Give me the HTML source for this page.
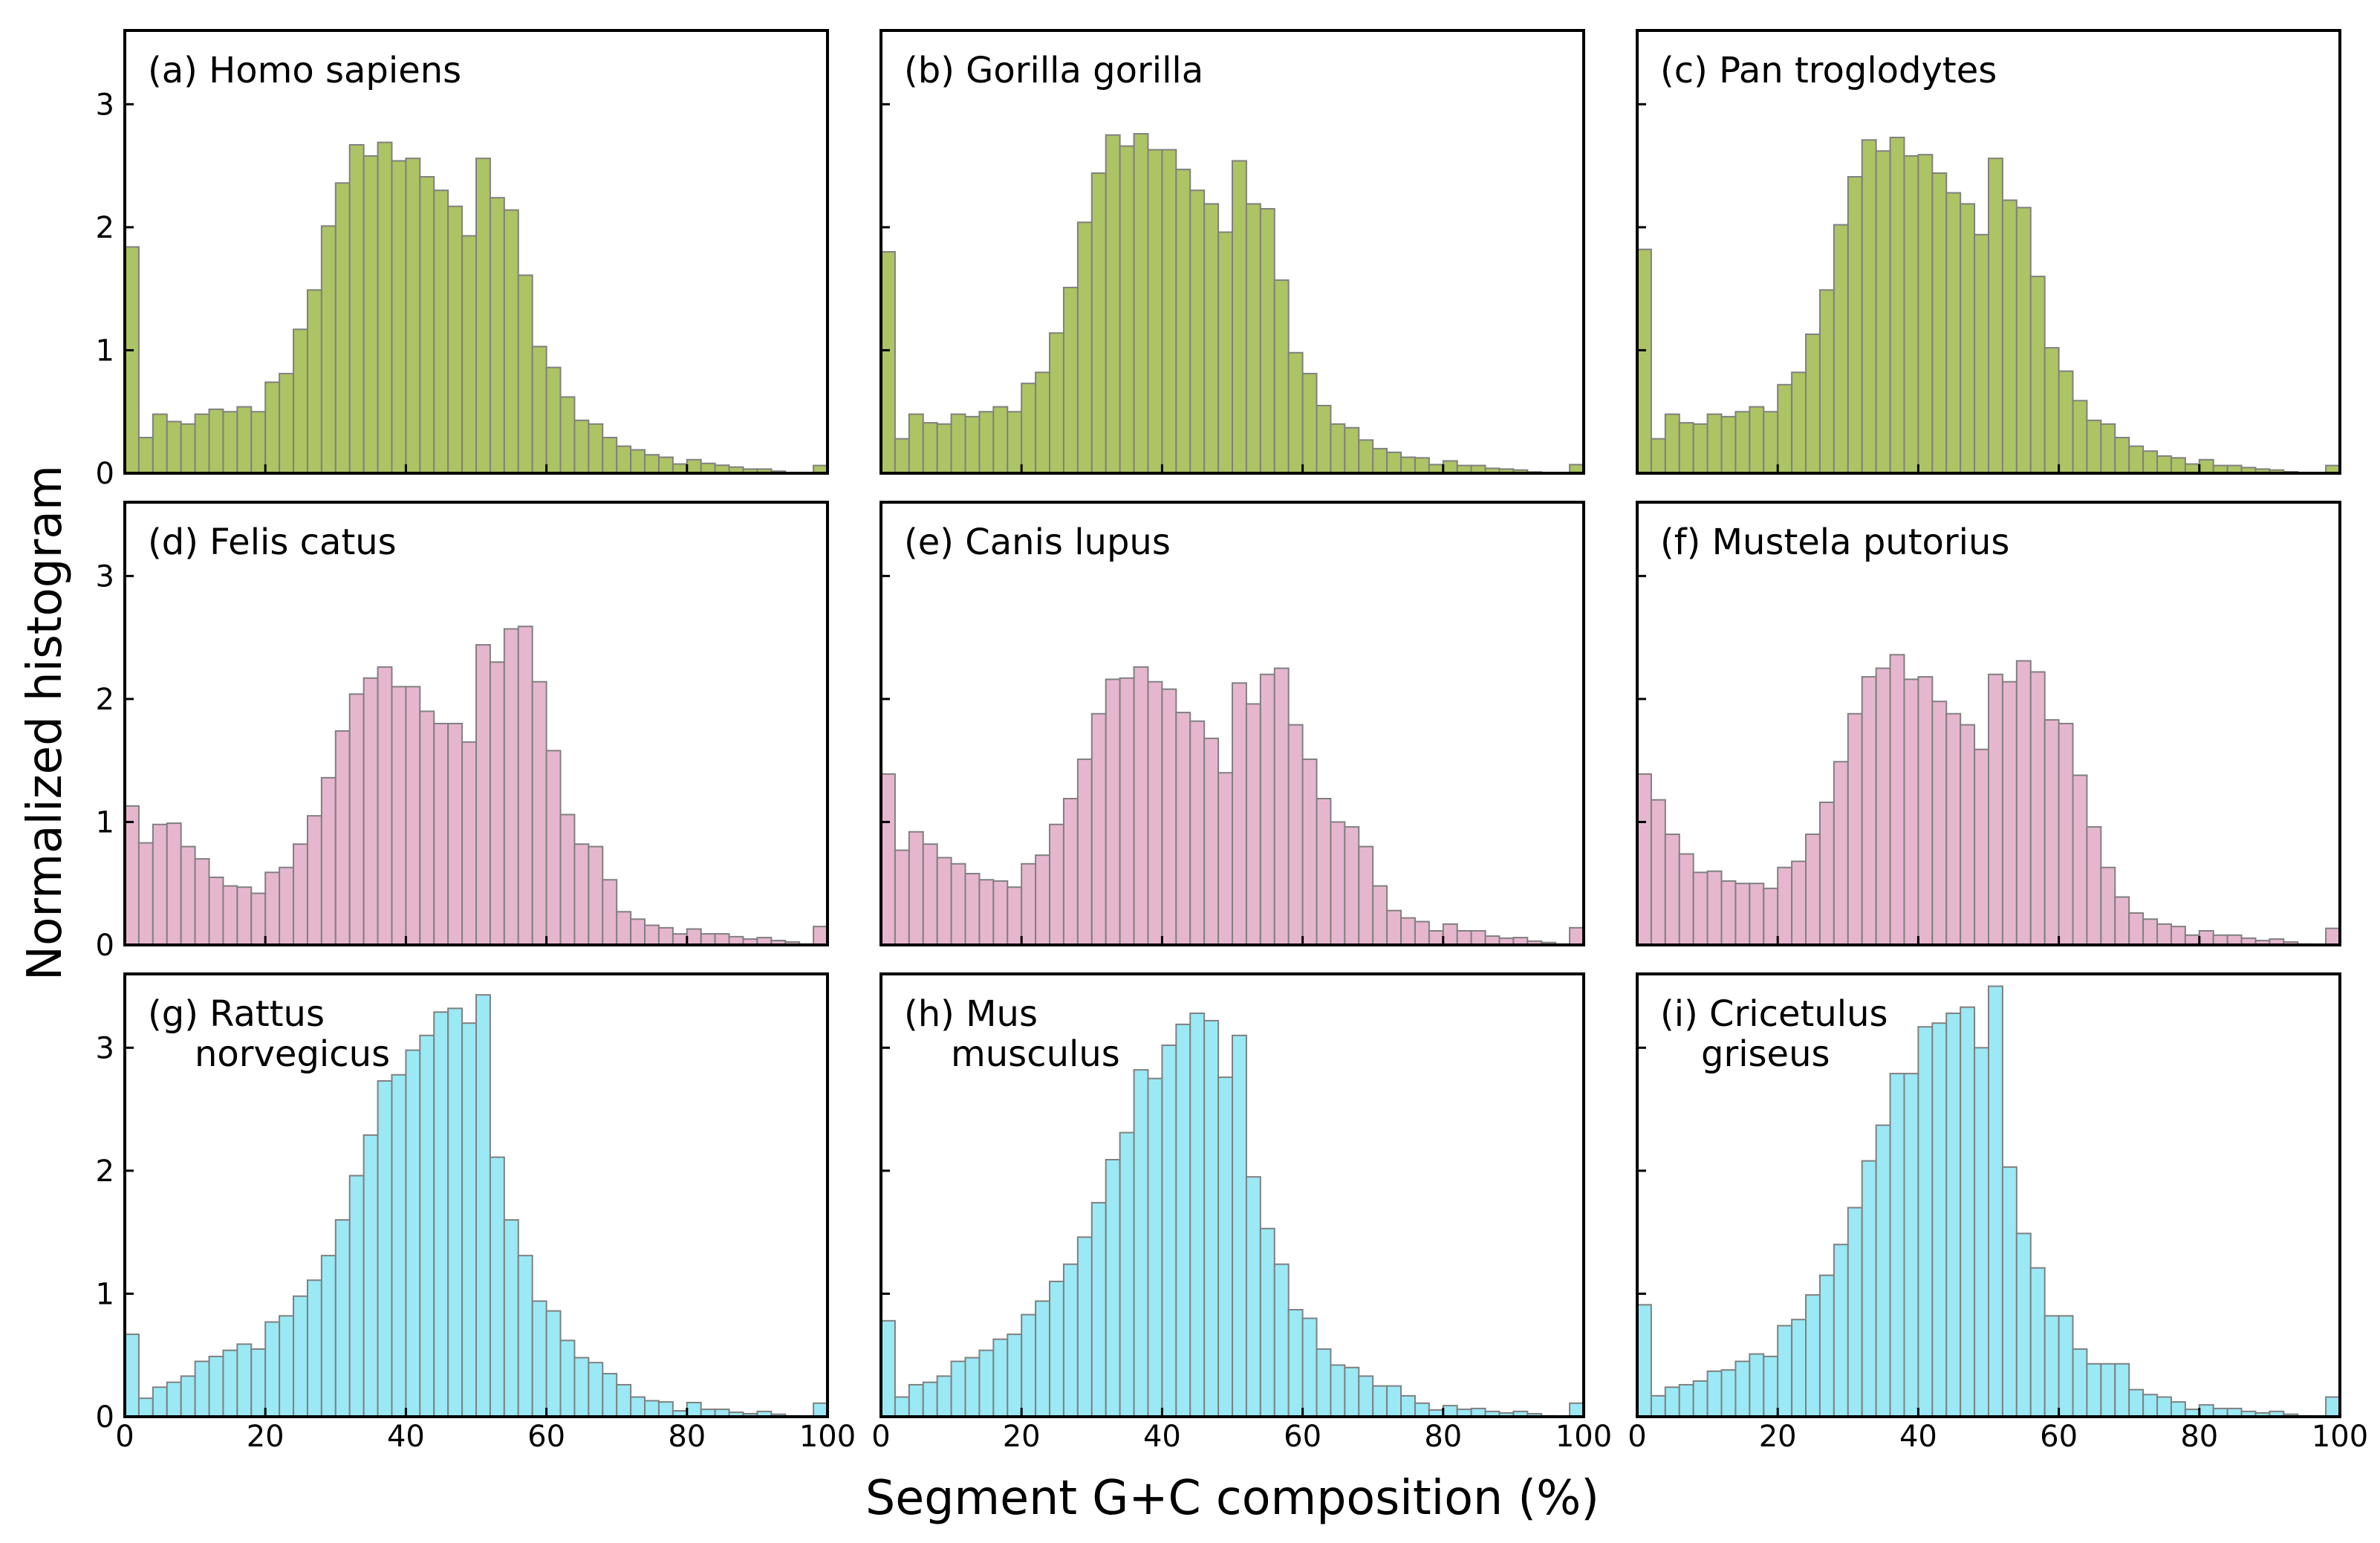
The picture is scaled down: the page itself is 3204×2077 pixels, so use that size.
<!DOCTYPE html>
<html><head><meta charset="utf-8">
<style>
html,body{margin:0;padding:0;background:#fff;}
svg{display:block;}
text{font-family:"DejaVu Sans","Liberation Sans",sans-serif;fill:#000;}
</style></head>
<body>
<svg id="fig" width="3204" height="2077" viewBox="0 0 3204 2077" xmlns="http://www.w3.org/2000/svg">
<rect x="0" y="0" width="3204" height="2077" fill="#fff"/>
<text transform="translate(82,973) rotate(-90)" text-anchor="middle" font-size="64" textLength="694" lengthAdjust="spacingAndGlyphs">Normalized histogram</text>
<text x="1659" y="2038" text-anchor="middle" font-size="64" textLength="988" lengthAdjust="spacingAndGlyphs">Segment G+C composition (%)</text>
</svg>
<script>
const binEdges = [0,2,4,6,8,10,12,14,16,18,20,22,24,26,28,30,32,34,36,38,40,42,44,46,48,50,52,54,56,58,60,62,64,66,68,70,72,74,76,78,80,82,84,86,88,90,92,94,96,98,100];
const xTicks = [0,20,40,60,80,100];
const yTicks = [0,1,2,3];
const panelLabels = [["(a) Homo sapiens"],["(b) Gorilla gorilla"],["(c) Pan troglodytes"],["(d) Felis catus"],["(e) Canis lupus"],["(f) Mustela putorius"],["(g) Rattus","norvegicus"],["(h) Mus","musculus"],["(i) Cricetulus","griseus"]];
const homoSapiens = [1.84,0.29,0.48,0.42,0.40,0.48,0.52,0.50,0.54,0.50,0.74,0.81,1.17,1.49,2.01,2.36,2.67,2.58,2.69,2.54,2.56,2.41,2.30,2.17,1.93,2.56,2.24,2.14,1.61,1.03,0.86,0.62,0.43,0.40,0.29,0.22,0.19,0.15,0.13,0.075,0.11,0.08,0.065,0.05,0.034,0.034,0.017,0.005,0,0.063];
const gorillaGorilla = [1.80,0.28,0.48,0.41,0.40,0.48,0.46,0.50,0.54,0.50,0.73,0.82,1.14,1.51,2.04,2.44,2.75,2.66,2.76,2.63,2.63,2.47,2.30,2.19,1.96,2.54,2.19,2.15,1.57,0.98,0.81,0.55,0.40,0.37,0.27,0.20,0.17,0.13,0.125,0.07,0.10,0.063,0.063,0.04,0.034,0.026,0.01,0.005,0,0.07];
const panTroglodytes = [1.82,0.28,0.48,0.41,0.40,0.48,0.46,0.50,0.54,0.50,0.72,0.82,1.13,1.49,2.02,2.41,2.71,2.62,2.73,2.58,2.59,2.44,2.28,2.19,1.94,2.56,2.22,2.16,1.60,1.02,0.83,0.59,0.43,0.40,0.29,0.22,0.18,0.14,0.125,0.075,0.11,0.063,0.063,0.046,0.034,0.026,0.012,0.005,0,0.063];
const felisCatus = [1.13,0.83,0.98,0.99,0.80,0.70,0.55,0.48,0.47,0.42,0.59,0.63,0.82,1.05,1.36,1.74,2.04,2.17,2.26,2.10,2.10,1.90,1.80,1.80,1.65,2.44,2.30,2.57,2.59,2.14,1.58,1.06,0.82,0.80,0.53,0.27,0.21,0.16,0.14,0.09,0.13,0.09,0.09,0.067,0.048,0.06,0.036,0.024,0.007,0.15];
const canisLupus = [1.39,0.77,0.92,0.82,0.71,0.66,0.58,0.53,0.52,0.47,0.66,0.73,0.98,1.19,1.51,1.88,2.16,2.17,2.26,2.14,2.08,1.89,1.82,1.68,1.40,2.13,1.96,2.20,2.25,1.79,1.51,1.19,1.00,0.96,0.80,0.48,0.28,0.22,0.19,0.115,0.17,0.115,0.115,0.072,0.055,0.06,0.031,0.02,0.007,0.14];
const mustelaPutorius = [1.39,1.18,0.90,0.74,0.59,0.60,0.52,0.50,0.50,0.46,0.63,0.68,0.90,1.16,1.49,1.88,2.18,2.25,2.36,2.16,2.18,1.98,1.88,1.79,1.59,2.20,2.14,2.31,2.22,1.83,1.80,1.38,0.96,0.63,0.39,0.26,0.21,0.17,0.15,0.08,0.115,0.08,0.08,0.055,0.036,0.048,0.024,0.007,0,0.135];
const rattusNorvegicus = [0.67,0.15,0.24,0.28,0.33,0.45,0.49,0.54,0.59,0.55,0.77,0.82,0.98,1.11,1.31,1.60,1.96,2.29,2.73,2.78,2.98,3.10,3.29,3.32,3.20,3.43,2.11,1.60,1.31,0.94,0.86,0.62,0.48,0.44,0.35,0.26,0.16,0.13,0.12,0.048,0.115,0.06,0.06,0.036,0.024,0.043,0.02,0.007,0,0.11];
const musMusculus = [0.78,0.16,0.26,0.28,0.33,0.45,0.48,0.54,0.63,0.67,0.83,0.94,1.10,1.24,1.46,1.74,2.09,2.31,2.82,2.75,3.02,3.19,3.28,3.22,2.76,3.10,1.95,1.53,1.24,0.87,0.80,0.55,0.42,0.40,0.33,0.25,0.25,0.17,0.11,0.055,0.09,0.06,0.067,0.043,0.031,0.043,0.024,0.007,0,0.11];
const cricetulusGriseus = [0.91,0.17,0.24,0.26,0.29,0.37,0.38,0.45,0.51,0.49,0.74,0.79,0.99,1.15,1.40,1.70,2.08,2.37,2.79,2.79,3.17,3.20,3.28,3.33,3.00,3.50,2.03,1.49,1.21,0.82,0.82,0.55,0.43,0.43,0.43,0.22,0.18,0.16,0.12,0.06,0.096,0.067,0.067,0.043,0.031,0.043,0.02,0.007,0,0.16];
const allSeries = [homoSapiens,gorillaGorilla,panTroglodytes,felisCatus,canisLupus,mustelaPutorius,rattusNorvegicus,musMusculus,cricetulusGriseus];

const NS = "http://www.w3.org/2000/svg";
const svg = document.getElementById('fig');
const colLeft = [168,1186,2204], rowTop = [41,676,1311];
const PW = 946, PH = 596, YMAX = 3.6;
const fills = ['#acc463','#e6b6cf','#9ae9f5'];
const panelNames = ['homo-sapiens','gorilla-gorilla','pan-troglodytes','felis-catus','canis-lupus','mustela-putorius','rattus-norvegicus','mus-musculus','cricetulus-griseus'];
function mk(tag, attrs, parent){const e=document.createElementNS(NS,tag);for(const k in attrs)e.setAttribute(k,attrs[k]);parent.appendChild(e);return e;}

for(let p=0;p<9;p++){
  const r=Math.floor(p/3), c=p%3;
  const L=colLeft[c], T=rowTop[r];
  const xs = v => L + v/100*PW;
  const ys = v => T + PH - v/YMAX*PH;
  const g = mk('g',{},svg);
  
  
  const vals = allSeries[p];
  for(let i=0;i<vals.length;i++){
    const x0=xs(binEdges[i]), x1=xs(binEdges[i+1]), y=ys(vals[i]);
    const b = mk('rect',{x:x0,y:y,width:x1-x0,height:ys(0)-y,fill:fills[r],stroke:'#808080','stroke-width':2},g);
    
    
  }
  // ticks
  xTicks.forEach(t=>{
    const tk = mk('line',{x1:xs(t),x2:xs(t),y1:ys(0),y2:ys(0)-12,stroke:'#000','stroke-width':3},g);
    
    
    if(r===2){
      const tl = mk('text',{x:xs(t),y:1947,'text-anchor':'middle','font-size':40},g);
      tl.textContent = t;
      
      
    }
  });
  yTicks.forEach(t=>{
    const tk = mk('line',{x1:L,x2:L+12,y1:ys(t),y2:ys(t),stroke:'#000','stroke-width':3},g);
    
    
    if(c===0){
      const tl = mk('text',{x:154,y:ys(t)+14,'text-anchor':'end','font-size':40},g);
      tl.textContent = t;
      
      
    }
  });
  const fr = mk('rect',{x:L,y:T,width:PW,height:PH,fill:'none',stroke:'#000','stroke-width':4},g);
  
  
  const lines = panelLabels[p];
  lines.forEach((s,k)=>{
    const tx = mk('text',{x:L+(k===0?31:94 - (c===2?8:0)),y:T+70+k*54,'font-size':48},g);
    tx.textContent = s;
    
    
  });
}
</script>
</body></html>
